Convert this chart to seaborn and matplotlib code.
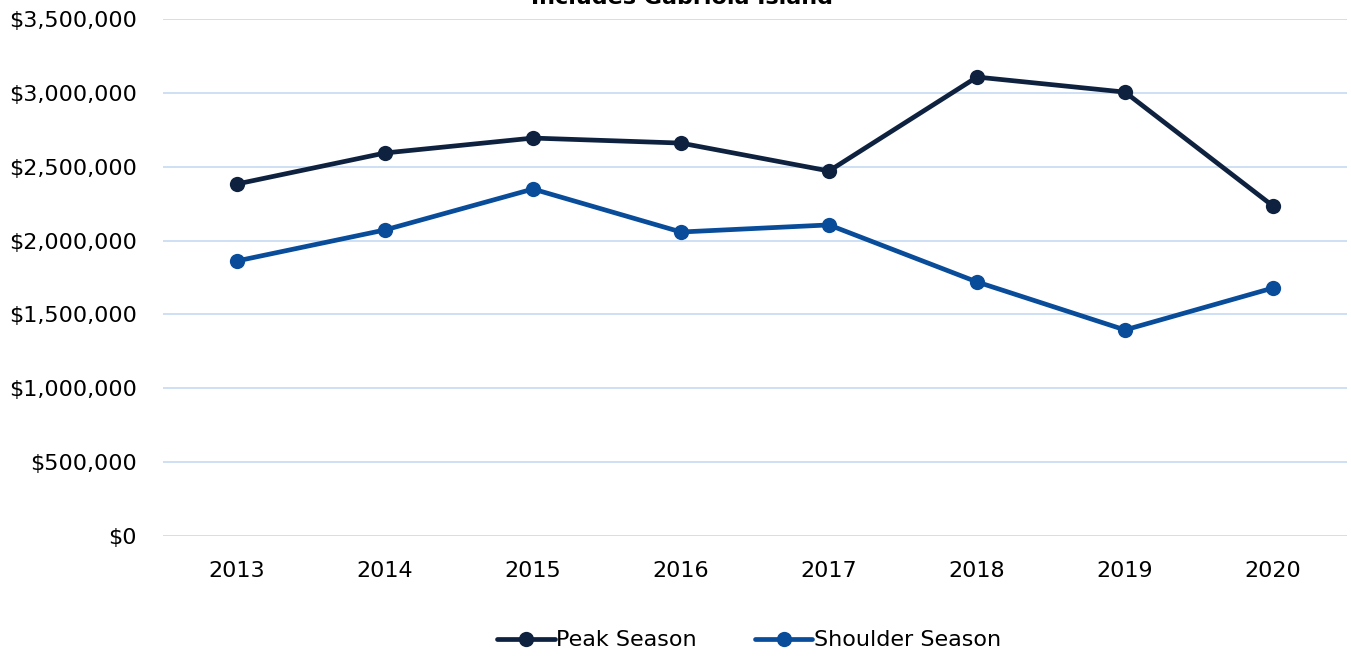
import matplotlib
matplotlib.use("Agg")
import matplotlib.pyplot as plt
import numpy as np
import pandas as pd
import seaborn as sns
from matplotlib.ticker import FuncFormatter

years = ["2013", "2014", "2015", "2016", "2017", "2018", "2019", "2020"]
peak = [2383000, 2593000, 2694000, 2660000, 2471000, 3107000, 3005000, 2234000]
shoulder = [1862000, 2072000, 2349000, 2058000, 2106000, 1720000, 1395000, 1679000]
series_names = ["Peak Season", "Shoulder Season"]
colors = ["#0e2240", "#084c9a"]

df = pd.DataFrame({
    "year": years * 2,
    "value": peak + shoulder,
    "series": [series_names[0]] * len(years) + [series_names[1]] * len(years),
})

sns.set_style("white")
plt.rcParams["font.family"] = ["DejaVu Sans"]
plt.rcParams["text.color"] = "black"

fig = plt.figure(figsize=(13.51, 6.56), dpi=100)
ax = fig.add_axes([163 / 1351, 1 - 536 / 656, (1347 - 163) / 1351, (536 - 19) / 656])

sns.lineplot(data=df, x="year", y="value", hue="series", palette=colors,
             marker="o", markersize=11, markeredgewidth=0, linewidth=3.4,
             sort=False, ax=ax)

ax.set_xlim(-0.5, len(years) - 0.5)
ax.set_ylim(0, 3500000)
ax.set_yticks(np.arange(0, 3500001, 500000))
ax.yaxis.set_major_formatter(FuncFormatter(lambda v, p: f"${v:,.0f}"))
ax.grid(axis="y", color="#cadcf3", linewidth=1.3)
ax.set_axisbelow(True)
for s in ax.spines.values():
    s.set_visible(False)
ax.tick_params(axis="both", length=0, labelsize=16, colors="black")
ax.tick_params(axis="y", pad=19)
ax.tick_params(axis="x", pad=18)
ax.set_xlabel("")
ax.set_ylabel("")

leg = ax.legend(loc="lower center", bbox_to_anchor=(0.495, -0.26), ncol=2, frameon=False,
                fontsize=16, handlelength=2.6, handletextpad=0.05, columnspacing=2.6)
for t in leg.get_texts():
    t.set_color("black")

fig.text(0.505, 1.003, "Includes Gabriola Island", ha="center", va="center",
         fontsize=16, fontweight="bold", color="black")

fig.savefig("out.png", dpi=100)
